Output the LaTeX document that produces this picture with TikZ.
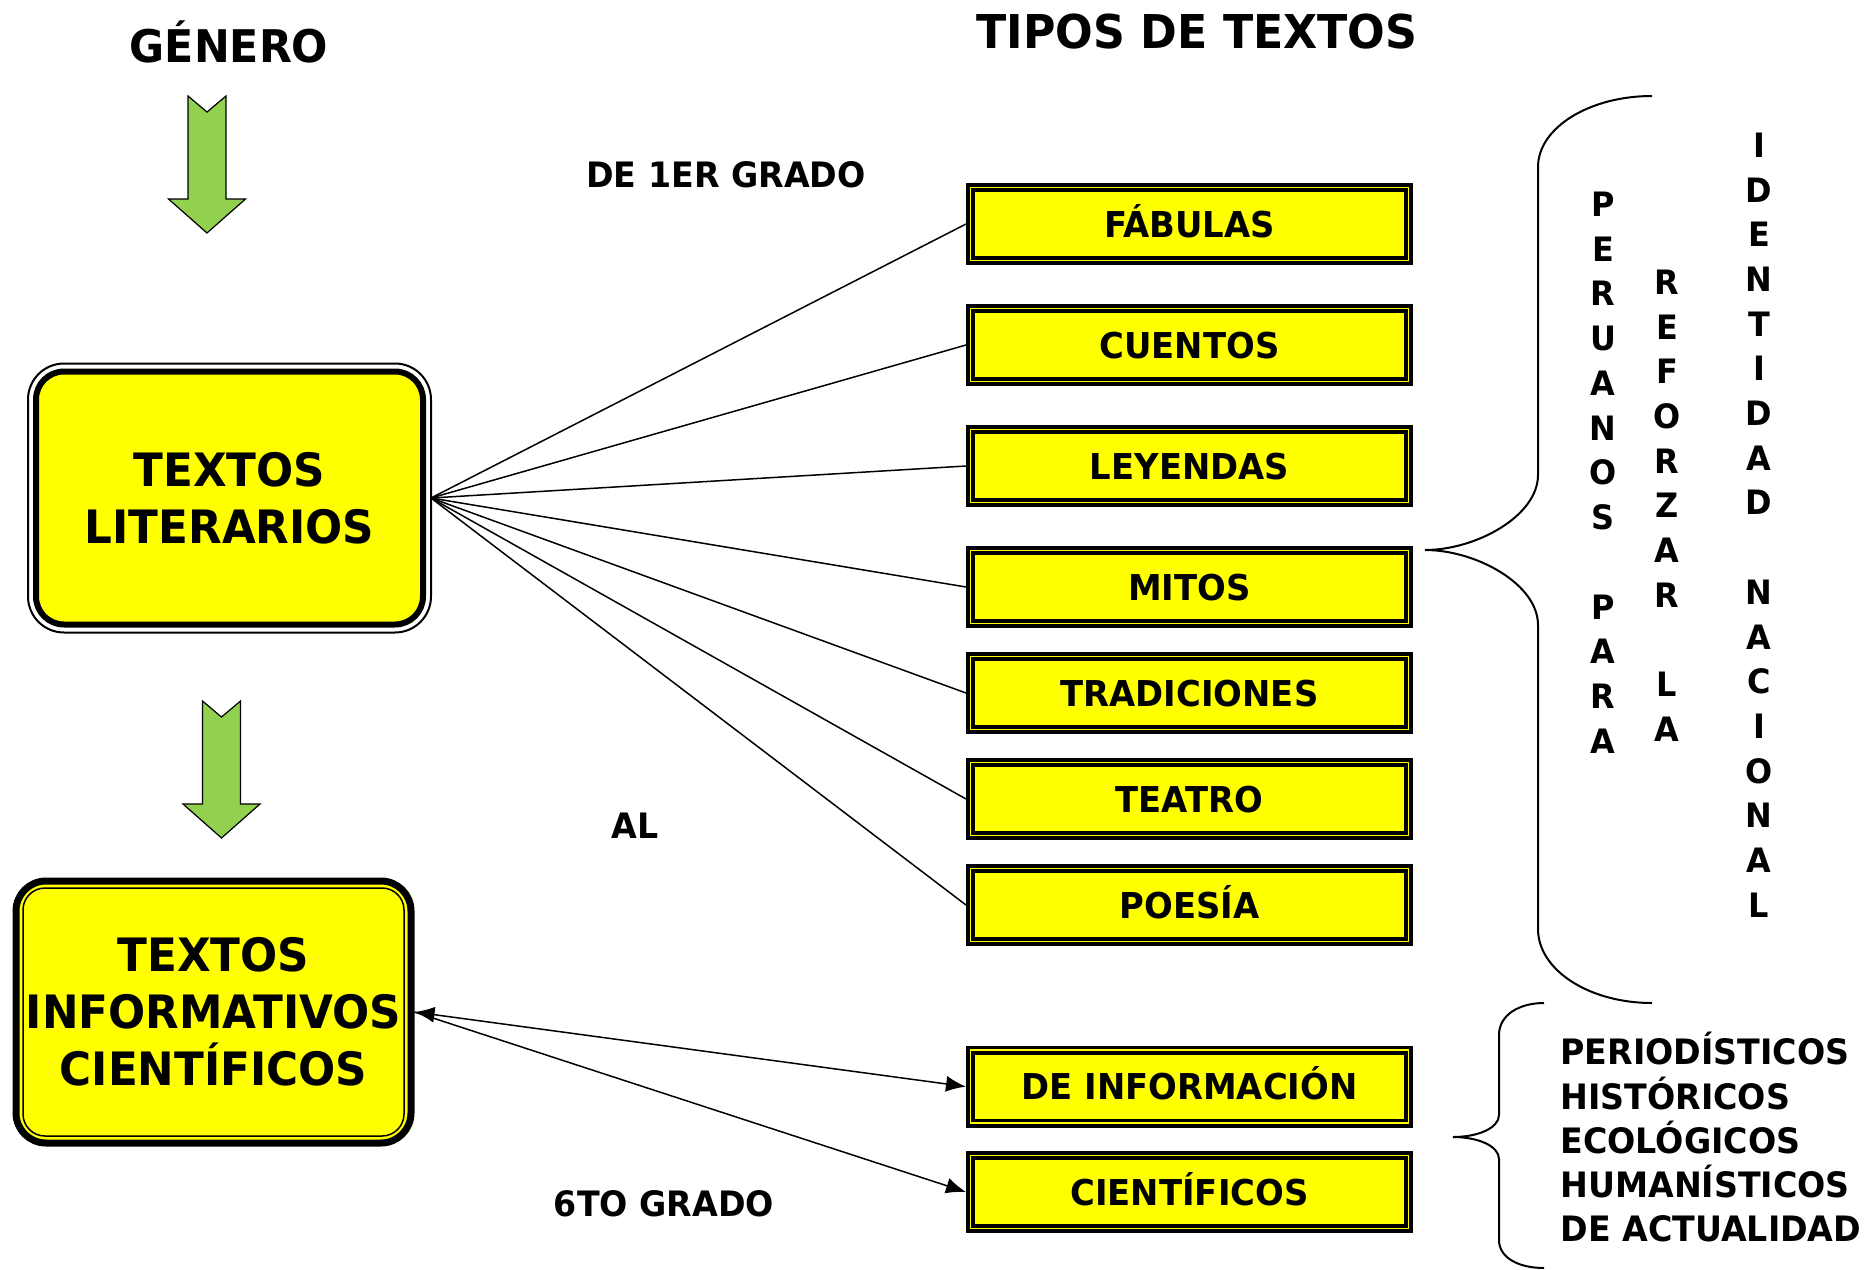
\documentclass[tikz,border=0pt]{standalone}
\usepackage{fontspec}
\setmainfont{DejaVu Sans}[FakeStretch=0.95]
\usetikzlibrary{arrows.meta,positioning}

\definecolor{amarillo}{RGB}{255,255,0}
\definecolor{verde}{RGB}{146,208,80}

% flecha verde: centro x, borde superior y
\newcommand{\flecha}[2]{%
  \draw[fill=verde, line width=0.6pt, line join=miter]
    (#1-19,#2) -- (#1,#2+16) -- (#1+19,#2) -- (#1+19,#2+103) -- (#1+38.5,#2+103)
    -- (#1,#2+137) -- (#1-38.5,#2+103) -- (#1-19,#2+103) -- cycle;}

\begin{document}
\begin{tikzpicture}[x=0.5pt, y=-0.5pt]
\tikzset{tipo/.style = {draw, line width=1.8pt, double=amarillo, double distance=0.9pt,
                        fill=amarillo, minimum width=219pt, minimum height=36.5pt,
                        inner sep=0pt, outer sep=2.25pt, text height=13pt, text depth=0pt,
                        font=\fontsize{17.8}{20}\selectfont\bfseries},
         titulo/.style = {inner sep=0pt, text height=16.4pt, text depth=0pt,
                          font=\fontsize{22.5}{24}\selectfont\bfseries},
         etiqueta/.style = {inner sep=0pt, text height=12.8pt, text depth=0pt,
                            font=\fontsize{17.5}{20}\selectfont\bfseries},
         letra/.style = {inner sep=0pt, text height=12.3pt, text depth=0pt,
                         font=\fontsize{16.8}{20}\selectfont\bfseries},
         literario/.style = {draw, line width=3pt, fill=amarillo, rounded corners=14pt,
                             minimum width=193.5pt, minimum height=126.5pt, outer sep=4pt,
                             align=center, font=\fontsize{23}{28.5}\selectfont\bfseries},
         informativo/.style = {draw, line width=3.5pt, fill=amarillo, rounded corners=15pt,
                               minimum width=197.5pt, minimum height=131pt, inner sep=0pt,
                               align=center, font=\fontsize{23}{28.5}\selectfont\bfseries},
         enlace/.style = {line width=0.75pt},
         flechita/.style = {line width=0.75pt, -{Latex[length=10pt,width=8pt]}},
         llave/.style = {line width=1pt}}

\useasboundingbox (0,0) rectangle (1874,1269);

\node[titulo] (gen) at (229,46) {GÉNERO};
\node[titulo, text height=17pt, font=\fontsize{23.3}{25}\selectfont\bfseries] (tip) at (1197,31) {TIPOS DE TEXTOS};

\flecha{207}{96}
\flecha{221.5}{701}

\node[literario] (lit) at (229.5,498) {TEXTOS\\LITERARIOS};
\draw[line width=1pt, rounded corners=18pt] (lit.north west) rectangle (lit.south east);

\node[informativo] (inf) at (213.5,1012) {TEXTOS\\INFORMATIVOS\\CIENTÍFICOS};
\draw[line width=0.75pt, rounded corners=11pt] ([shift={(5.25pt,-5.25pt)}]inf.north west)
  rectangle ([shift={(-5.25pt,5.25pt)}]inf.south east);

\node[tipo] (fab) at (1189.5,224) {FÁBULAS};
\node[tipo, below=19.5pt of fab] (cue) {CUENTOS};
\node[tipo, below=19.5pt of cue] (ley) {LEYENDAS};
\node[tipo, below=19.5pt of ley] (mit) {MITOS};
\node[tipo, below=12pt of mit] (tra) {TRADICIONES};
\node[tipo, below=12pt of tra] (tea) {TEATRO};
\node[tipo, below=12pt of tea] (poe) {POESÍA};
\node[tipo, below=49.8pt of poe] (dei) {DE INFORMACIÓN};
\node[tipo, below=11.7pt of dei] (cie) {CIENTÍFICOS};

\node[etiqueta] (de1) at (726,175) {DE 1ER GRADO};
\node[etiqueta] (al) at (635,826) {AL};
\node[etiqueta] (de6) at (664,1204) {6TO GRADO};

\foreach \n in {fab,cue,ley,mit,tra,tea,poe}
  \draw[enlace] (lit.east) -- (\n.west);
\draw[flechita, {Latex[length=10pt,width=8pt]}-{Latex[length=10pt,width=8pt]}] (inf.east) -- (dei.west);
\draw[flechita] (inf.east) -- (cie.west);

% llaves
\draw[llave] (1652,96) .. controls (1589,96) and (1538,128) .. (1538,167) -- (1538,475)
  .. controls (1538,516) and (1476,550) .. (1425,550)
  .. controls (1476,550) and (1538,584) .. (1538,625) -- (1538,929)
  .. controls (1538,970) and (1589,1003) .. (1652,1003);
\draw[llave] (1544,1003) .. controls (1519,1003) and (1499,1015) .. (1499,1035) -- (1499,1115)
  .. controls (1499,1128) and (1478,1137) .. (1453,1137)
  .. controls (1478,1137) and (1499,1146) .. (1499,1159) -- (1499,1240)
  .. controls (1499,1258) and (1519,1268) .. (1544,1268);

\foreach \l [count=\i from 0] in {P,E,R,U,A,N,O,S}
  \node[letra] (per-\i) at (1603,204+44.75*\i) {\l};
\foreach \l [count=\i from 9] in {P,A,R,A}
  \node[letra] (per-\i) at (1603,204+44.75*\i) {\l};
\foreach \l [count=\i from 0] in {R,E,F,O,R,Z,A,R}
  \node[letra] (ref-\i) at (1667,282+44.7*\i) {\l};
\foreach \l [count=\i from 9] in {L,A}
  \node[letra] (ref-\i) at (1667,282+44.7*\i) {\l};
\foreach \l [count=\i from 0] in {I,D,E,N,T,I,D,A,D}
  \node[letra] (ide-\i) at (1759,145+44.7*\i) {\l};
\foreach \l [count=\i from 10] in {N,A,C,I,O,N,A,L}
  \node[letra] (ide-\i) at (1759,145+44.7*\i) {\l};

\foreach \t [count=\i from 0] in {PERIODÍSTICOS,HISTÓRICOS,ECOLÓGICOS,HUMANÍSTICOS,DE ACTUALIDAD}
  \node[etiqueta, anchor=west] (lst-\i) at (1560,1052+44.25*\i) {\t};

\end{tikzpicture}
\end{document}
